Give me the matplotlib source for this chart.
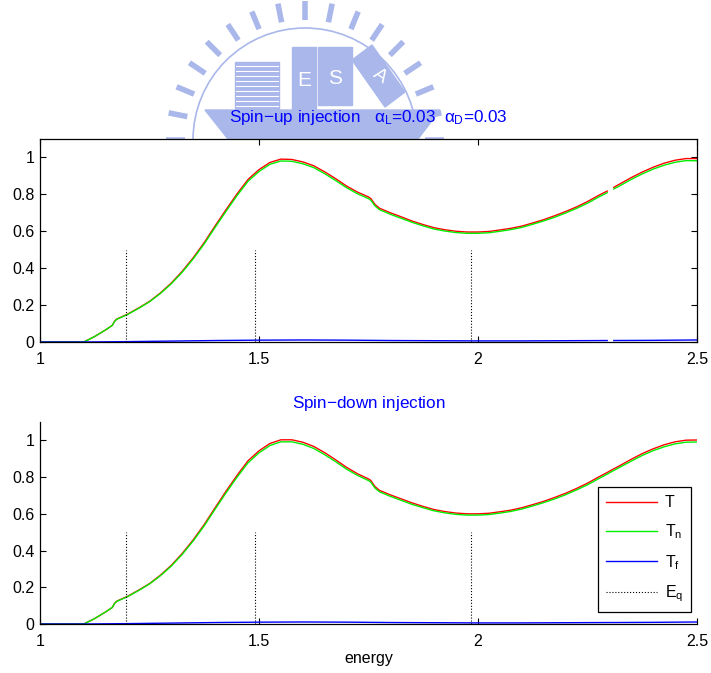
import numpy as np
import matplotlib
matplotlib.use('Agg')
import matplotlib.pyplot as plt
from matplotlib.patches import Polygon, Rectangle, Circle

plt.rcParams['font.family'] = ['Liberation Sans', 'DejaVu Sans']
plt.rcParams['mathtext.fontset'] = 'custom'
plt.rcParams['mathtext.rm'] = 'Liberation Sans'
plt.rcParams['mathtext.it'] = 'Liberation Sans'

nan = np.nan

# energy grid of the read-off points
energy = [1.00, 1.05, 1.10, 1.125, 1.15, 1.165, 1.17, 1.175, 1.20,
          1.225, 1.25, 1.275, 1.30, 1.325, 1.35, 1.375, 1.40, 1.425, 1.45, 1.475, 1.50,
          1.525, 1.55, 1.575, 1.60, 1.625, 1.65, 1.675, 1.70, 1.725, 1.75,
          1.755, 1.765, 1.775, 1.80,
          1.825, 1.85, 1.875, 1.90, 1.925, 1.95, 1.975, 2.00,
          2.025, 2.05, 2.075, 2.10, 2.125, 2.15, 2.175, 2.20,
          2.225, 2.25, 2.275, 2.295, 2.30, 2.31, 2.325, 2.35,
          2.375, 2.40, 2.425, 2.45, 2.475, 2.50]

# spin-up injection
T_up = [0, 0, 0, 0.03, 0.066, 0.09, 0.112, 0.124, 0.151,
        0.184, 0.22, 0.266, 0.32, 0.384, 0.457, 0.539, 0.63, 0.718, 0.803, 0.881, 0.934,
        0.973, 0.991, 0.989, 0.976, 0.955, 0.922, 0.885, 0.845, 0.812, 0.786,
        0.778, 0.745, 0.725, 0.70,
        0.678, 0.655, 0.636, 0.619, 0.608, 0.600, 0.596, 0.596,
        0.599, 0.607, 0.616, 0.628, 0.645, 0.663, 0.684, 0.707,
        0.732, 0.761, 0.794, 0.818, nan, 0.838, 0.858, 0.891,
        0.921, 0.947, 0.969, 0.985, 0.994, 0.994]
Tn_up = [0, 0, 0, 0.03, 0.066, 0.09, 0.111, 0.123, 0.149,
         0.182, 0.218, 0.263, 0.316, 0.379, 0.451, 0.532, 0.622, 0.709, 0.794, 0.871, 0.924,
         0.963, 0.981, 0.979, 0.966, 0.945, 0.912, 0.875, 0.836, 0.803, 0.777,
         0.769, 0.737, 0.717, 0.692,
         0.670, 0.648, 0.629, 0.612, 0.601, 0.593, 0.589, 0.589,
         0.592, 0.600, 0.609, 0.621, 0.638, 0.656, 0.676, 0.699,
         0.724, 0.752, 0.785, 0.809, nan, 0.829, 0.848, 0.881,
         0.911, 0.937, 0.958, 0.974, 0.983, 0.982]

# spin-down injection
T_down = [0, 0, 0, 0.03, 0.066, 0.09, 0.112, 0.124, 0.151,
          0.184, 0.22, 0.266, 0.32, 0.385, 0.459, 0.542, 0.634, 0.724, 0.810, 0.889, 0.943,
          0.983, 1.003, 1.003, 0.990, 0.967, 0.933, 0.894, 0.853, 0.818, 0.790,
          0.782, 0.748, 0.728, 0.703,
          0.681, 0.659, 0.640, 0.623, 0.612, 0.604, 0.600, 0.600,
          0.603, 0.611, 0.620, 0.633, 0.650, 0.668, 0.689, 0.712,
          0.738, 0.767, 0.800, 0.825, 0.832, 0.845, 0.864, 0.897,
          0.928, 0.954, 0.976, 0.992, 1.001, 1.002]
Tn_down = [0, 0, 0, 0.03, 0.066, 0.09, 0.111, 0.123, 0.149,
           0.182, 0.218, 0.263, 0.316, 0.380, 0.453, 0.535, 0.626, 0.715, 0.800, 0.878, 0.932,
           0.972, 0.992, 0.992, 0.979, 0.956, 0.922, 0.884, 0.843, 0.809, 0.781,
           0.773, 0.740, 0.720, 0.695,
           0.673, 0.651, 0.633, 0.616, 0.605, 0.597, 0.593, 0.593,
           0.596, 0.604, 0.613, 0.626, 0.643, 0.661, 0.681, 0.704,
           0.730, 0.758, 0.791, 0.816, 0.823, 0.836, 0.855, 0.887,
           0.918, 0.944, 0.965, 0.981, 0.990, 0.991]

# flip-channel transmission (coarser grid)
energy_f = [1.0, 1.1, 1.2, 1.3, 1.4, 1.5, 1.6, 1.7, 1.8, 1.9, 2.0, 2.1, 2.2,
            2.295, 2.30, 2.31, 2.4, 2.5]
Tf_up = [0, 0, 0.002, 0.005, 0.008, 0.010, 0.011, 0.010, 0.008, 0.007, 0.006,
         0.006, 0.007, 0.008, nan, 0.008, 0.009, 0.011]
Tf_down = [0, 0, 0.002, 0.005, 0.008, 0.010, 0.011, 0.010, 0.008, 0.007, 0.006,
           0.006, 0.007, 0.008, 0.008, 0.008, 0.009, 0.011]

# quasi-bound energies
Eq = [1.196, 1.491, 1.984]
Eq_height = 0.5

xticks = [1, 1.5, 2, 2.5]
yticks = [0, 0.2, 0.4, 0.6, 0.8, 1]

fig = plt.figure(figsize=(7.11, 6.73), dpi=100)

# faint background logo (watermark above the upper panel)
bg = fig.add_axes([0, 0, 1, 1], zorder=0)
bg.set_xlim(0, 711)
bg.set_ylim(673, 0)
bg.axis('off')
wm = '#a9b7ea'
cx, cy = 305, 140
for a in np.linspace(0, np.pi, 17):
    bg.plot([cx + 120 * np.cos(a), cx + 139 * np.cos(a)],
            [cy - 120 * np.sin(a), cy - 139 * np.sin(a)],
            color=wm, lw=4, solid_capstyle='butt')
bg.add_patch(Circle((cx, cy), 112, fill=False, ec=wm, lw=1.2))
bg.add_patch(Rectangle((235, 62), 44, 48, color=wm))
for yy in range(66, 110, 5):
    bg.plot([236, 278], [yy, yy], color='white', lw=0.8)
bg.add_patch(Rectangle((292, 47), 24, 62, color=wm))
bg.add_patch(Rectangle((318, 47), 34, 58, color=wm))
bg.add_patch(Polygon([(352, 60), (372, 45), (405, 92), (385, 107)], color=wm))
bg.add_patch(Polygon([(205, 110), (440, 110), (418, 139), (228, 139)], color=wm))
bg.text(304, 80, 'E', color='white', fontsize=15, ha='center', va='center')
bg.text(335, 78, 'S', color='white', fontsize=15, ha='center', va='center')
bg.text(380, 76, 'A', color='white', fontsize=14, ha='center', va='center', rotation=-35)

ax1 = fig.add_axes([40 / 711, 331 / 673, 657 / 711, 203 / 673], zorder=1)
ax2 = fig.add_axes([40 / 711, 49 / 673, 657 / 711, 202 / 673], zorder=1)


def draw(ax, T, Tn, Tf):
    ax.plot(energy, T, color='#ff0000', lw=1.0, label='T')
    ax.plot(energy, Tn, color='#00ee00', lw=1.0, label='$T_n$')
    ax.plot(energy_f, Tf, color='#0000ff', lw=1.0, label='$T_f$')
    ax.vlines(Eq, 0, Eq_height, colors='k', linestyles=':', lw=0.8, label='$E_q$')
    ax.set_xlim(1, 2.5)
    ax.set_ylim(0, 1.1)
    ax.set_xticks(xticks)
    ax.set_xticklabels(['1', '1.5', '2', '2.5'])
    ax.set_yticks(yticks)
    ax.set_yticklabels(['0', '0.2', '0.4', '0.6', '0.8', '1'])
    ax.tick_params(direction='in', length=4.5, labelsize=11.5, width=0.8)
    ax.tick_params(axis='x', pad=7)
    ax.tick_params(axis='y', pad=4)
    for s in ax.spines.values():
        s.set_linewidth(0.9)


draw(ax1, T_up, Tn_up, Tf_up)
ax1.tick_params(top=True, right=True)
ax1.set_title(r'Spin$-$up injection   $\alpha_L$=0.03  $\alpha_D$=0.03',
              color='#0000ff', fontsize=12.3, pad=12)

draw(ax2, T_down, Tn_down, Tf_down)
ax2.spines['top'].set_visible(False)
ax2.spines['right'].set_visible(False)
ax2.set_title(r'Spin$-$down injection', color='#0000ff', fontsize=12.3, pad=10)
ax2.set_xlabel('energy', fontsize=11.5, labelpad=2)

leg = ax2.legend(loc='lower right', bbox_to_anchor=(0.991, 0.059), fontsize=11.5,
                 frameon=True, fancybox=False, edgecolor='k', framealpha=1,
                 handlelength=3.2, labelspacing=0.75, borderpad=0.5,
                 handletextpad=0.5, borderaxespad=0)
leg.get_frame().set_linewidth(0.9)

fig.savefig('out.png', dpi=100)
